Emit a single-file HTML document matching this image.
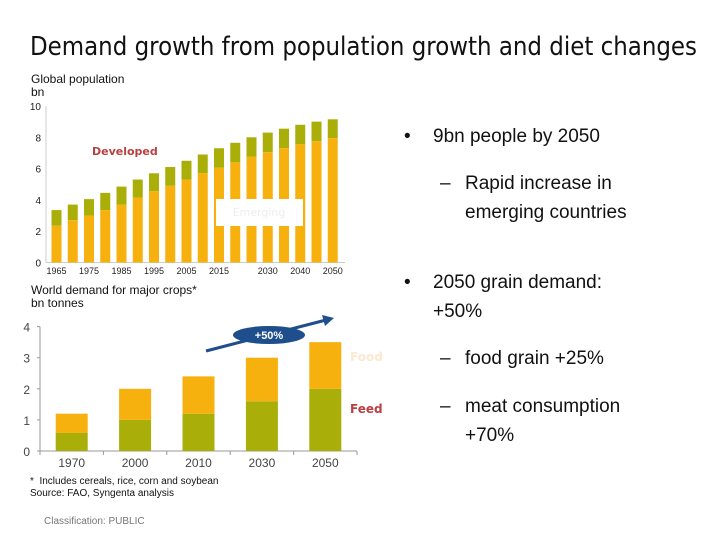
<!DOCTYPE html>
<html><head><meta charset="utf-8"><style>
body{margin:0;width:728px;height:546px;background:#fff;font-family:"Liberation Sans",sans-serif;overflow:hidden;position:relative}
.abs{position:absolute;white-space:nowrap}
.rt{font-family:"Liberation Sans",sans-serif;font-size:19px;color:#111;line-height:29px}
</style></head><body>
<svg width="728" height="546" style="position:absolute;left:0;top:0" id="svg">
<text x="30" y="55" font-size="26" font-family="DejaVu Sans" fill="#111" textLength="667" lengthAdjust="spacingAndGlyphs">Demand growth from population growth and diet changes</text>
</svg>
<div class="abs rt" style="left:404px;top:122px">•</div>
<div class="abs rt" style="left:433px;top:122px">9bn people by 2050</div>
<div class="abs rt" style="left:440px;top:169px">–</div>
<div class="abs rt" style="left:465px;top:169px">Rapid increase in<br>emerging countries</div>
<div class="abs rt" style="left:404px;top:268px">•</div>
<div class="abs rt" style="left:433px;top:268px">2050 grain demand:<br>+50%</div>
<div class="abs rt" style="left:440px;top:344px">–</div>
<div class="abs rt" style="left:465px;top:344px">food grain +25%</div>
<div class="abs rt" style="left:440px;top:392px">–</div>
<div class="abs rt" style="left:465px;top:392px">meat consumption<br>+70%</div>
<div class="abs" style="left:30px;top:476px;font-size:10px;line-height:12px;color:#111">*&nbsp; Includes cereals, rice, corn and soybean<br>Source: FAO, Syngenta analysis</div>
<div class="abs" style="left:44px;top:516px;font-size:10px;color:#777">Classification: PUBLIC</div>
<script>
const popYears=[1965,1970,1975,1980,1985,1990,1995,2000,2005,2010,2015,2020,2025,2030,2035,2040,2045,2050];
const popTotal=[3.35,3.7,4.05,4.45,4.85,5.3,5.7,6.1,6.5,6.9,7.3,7.65,8.0,8.3,8.55,8.8,9.0,9.15];
const popEmerging=[2.35,2.7,3.0,3.35,3.7,4.15,4.55,4.9,5.3,5.7,6.05,6.4,6.75,7.05,7.3,7.55,7.75,7.95];
const popXLabels=["1965","1975","1985","1995","2005","2015","2030","2040","2050"];
const popYTicks=[0,2,4,6,8,10];
const cropYears=["1970","2000","2010","2030","2050"];
const cropTotal=[1.2,2.0,2.4,3.0,3.5];
const cropFeed=[0.58,1.0,1.2,1.6,2.0];
const cropYTicks=[0,1,2,3,4];
const OR="#F7B10E",GR="#A9AE08";
const svg=document.getElementById('svg');const NS="http://www.w3.org/2000/svg";
function el(t,a,txt){const e=document.createElementNS(NS,t);for(const k in a)e.setAttribute(k,a[k]);if(txt!=null)e.textContent=txt;svg.appendChild(e);return e;}
const y1=v=>262.5-v*15.65;const x1=y=>56.5+(y-1965)/5*16.25;
let t=el('text',{x:31,y:83,'font-size':12,fill:'#111'},'Global population');


t=el('text',{x:31,y:96,'font-size':12,fill:'#111'},'bn');


let a=el('line',{x1:46,x2:46,y1:y1(10),y2:y1(0),stroke:'#ccc'});


a=el('line',{x1:46,x2:345,y1:y1(0),y2:y1(0),stroke:'#ccc'});


popYTicks.forEach(v=>{const e=el('text',{x:41,y:y1(v)+4,'font-size':10,'text-anchor':'end',fill:'#222'},String(v));

});
popXLabels.forEach(l=>{const e=el('text',{x:x1(+l),y:274,'font-size':9,'text-anchor':'middle',fill:'#222'},l);

});
popYears.forEach((yr,i)=>{const cx=x1(yr);
const g=el('rect',{x:cx-5,y:y1(popTotal[i]),width:10,height:y1(popEmerging[i])-y1(popTotal[i]),fill:GR});


const o=el('rect',{x:cx-5,y:y1(popEmerging[i]),width:10,height:y1(0)-y1(popEmerging[i]),fill:OR});

});
a=el('rect',{x:216,y:199,width:87,height:27,fill:'#fff'});


t=el('text',{x:259,y:216,'font-size':11,'text-anchor':'middle',fill:'#eee','font-family':'DejaVu Sans'},'Emerging');


t=el('text',{x:92,y:155,'font-size':11,fill:'#b84040','font-weight':'bold','font-family':'DejaVu Sans'},'Developed');


const y2=v=>451-v*31.1;const x2=i=>71.7+i*63.4;
t=el('text',{x:31,y:294,'font-size':12,fill:'#111'},'World demand for major crops*');


t=el('text',{x:31,y:307,'font-size':12,fill:'#111'},'bn tonnes');


a=el('line',{x1:40,x2:40,y1:y2(4),y2:y2(0),stroke:'#999'});


a=el('line',{x1:40,x2:357,y1:y2(0),y2:y2(0),stroke:'#999'});


cropYTicks.forEach(v=>{const e=el('text',{x:30,y:y2(v)+5,'font-size':12,'text-anchor':'end',fill:'#444'},String(v));


el('line',{x1:37,x2:40,y1:y2(v),y2:y2(v),stroke:'#999'});});
for(let i=0;i<=5;i++)el('line',{x1:40+i*63.4,x2:40+i*63.4,y1:y2(0),y2:y2(0)+4,stroke:'#999'});
cropYears.forEach((l,i)=>{const e=el('text',{x:x2(i),y:467,'font-size':12,'text-anchor':'middle',fill:'#444'},l);


const g=el('rect',{x:x2(i)-16,y:y2(cropFeed[i]),width:32,height:y2(0)-y2(cropFeed[i]),fill:GR});


const o=el('rect',{x:x2(i)-16,y:y2(cropTotal[i]),width:32,height:y2(cropFeed[i])-y2(cropTotal[i]),fill:OR});

});
t=el('text',{x:350,y:361,'font-size':12,fill:'#fbe9d0','font-weight':'bold','font-family':'DejaVu Sans'},'Food');


t=el('text',{x:350,y:413,'font-size':12,fill:'#b84040','font-weight':'bold','font-family':'DejaVu Sans'},'Feed');


a=el('path',{d:'M206,351 L326,320',stroke:'#1f4e8c','stroke-width':3,fill:'none'});


el('path',{d:'M334,318 L322,315 L325,326 Z',fill:'#1f4e8c'});
a=el('ellipse',{cx:269,cy:335,rx:36,ry:9,fill:'#1f4e8c'});


t=el('text',{x:269,y:339,'font-size':11,'text-anchor':'middle',fill:'#fff','font-weight':'bold'},'+50%');


</script>
</body></html>
